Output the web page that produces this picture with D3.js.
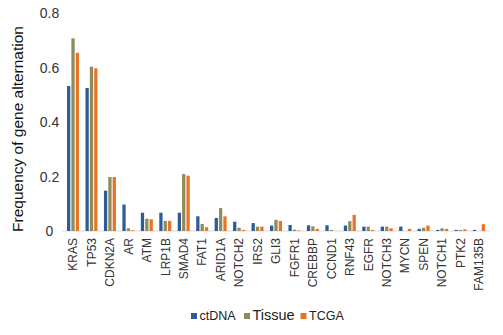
<!DOCTYPE html>
<html>
<head>
<meta charset="utf-8">
<script src="https://cdn.jsdelivr.net/npm/d3@7"></script>
<style>
  body { margin: 0; background: #fff; }
  svg { display: block; font-family: "Liberation Sans", Arial, sans-serif; }
</style>
</head>
<body>
<div id="plot"></div>
<script>
var width = 503;
var height = 335;

var genes = ['KRAS', 'TP53', 'CDKN2A', 'AR', 'ATM', 'LRP1B', 'SMAD4', 'FAT1', 'ARID1A', 'NOTCH2',
             'IRS2', 'GLI3', 'FGFR1', 'CREBBP', 'CCND1', 'RNF43', 'EGFR', 'NOTCH3', 'MYCN', 'SPEN',
             'NOTCH1', 'PTK2', 'FAM135B'];
var series = ['ctDNA', 'Tissue', 'TCGA'];
var ctdna  = [0.532, 0.525, 0.148, 0.097, 0.067, 0.067, 0.067, 0.054, 0.048, 0.034,
              0.029, 0.020, 0.022, 0.021, 0.021, 0.020, 0.016, 0.016, 0.016, 0.008,
              0.004, 0.004, 0.004];
var tissue = [0.707, 0.603, 0.198, 0.010, 0.045, 0.037, 0.209, 0.026, 0.084, 0.012,
              0.016, 0.041, 0.005, 0.017, 0.004, 0.036, 0.016, 0.016, 0.000, 0.012,
              0.010, 0.004, 0.000];
var tcga   = [0.654, 0.597, 0.198, 0.003, 0.043, 0.037, 0.203, 0.014, 0.054, 0.004,
              0.016, 0.037, 0.002, 0.008, 0.000, 0.059, 0.004, 0.010, 0.008, 0.020,
              0.008, 0.006, 0.025];
var y_ticks = [0, 0.2, 0.4, 0.6, 0.8];
var colors = ['#2f5b97', '#8f8b5a', '#e8742a'];

var values = [ctdna, tissue, tcga];

var canvas = d3.select('#plot')
    .append('svg')
    .attr('width', width)
    .attr('height', height);

var x_scale = d3.scaleBand()
    .domain(genes)
    .range([63.8, 488.2]);

var inner = d3.scaleBand()
    .domain(series)
    .range([0, 12])
    .paddingInner(0.25);

var y_scale = d3.scaleLinear()
    .domain([0, 0.8])
    .range([231, 13]);

// baseline
canvas.append('line')
    .attr('x1', 62).attr('x2', 490)
    .attr('y1', y_scale(0)).attr('y2', y_scale(0))
    .attr('stroke', '#d9d9d9')
    .attr('stroke-width', 1);

// bars
series.forEach(function(s, si) {
    canvas.selectAll('rect.s' + si)
        .data(genes)
        .enter()
        .append('rect')
        .attr('class', 's' + si)
        .attr('x', function(g) { return x_scale(g) + x_scale.bandwidth() / 2 - 6 + inner(s); })
        .attr('y', function(g, i) { return y_scale(values[si][i]); })
        .attr('width', inner.bandwidth())
        .attr('height', function(g, i) { return y_scale(0) - y_scale(values[si][i]); })
        .attr('fill', colors[si]);
});

// y tick labels
canvas.selectAll('text.ytick')
    .data(y_ticks)
    .enter()
    .append('text')
    .attr('class', 'ytick')
    .attr('x', 49.5)
    .attr('y', function(d) { return y_scale(d) + 5; })
    .attr('text-anchor', 'middle')
    .attr('font-size', 14)
    .attr('fill', '#333')
    .text(function(d) { return d === 0 ? '0' : d3.format('.1f')(d); });

// x labels
canvas.selectAll('text.xlab')
    .data(genes)
    .enter()
    .append('text')
    .attr('class', 'xlab')
    .attr('transform', function(g) {
        return 'translate(' + (x_scale(g) + x_scale.bandwidth() / 2 + 4.3) + ',238) rotate(-90)';
    })
    .attr('text-anchor', 'end')
    .attr('font-size', 12)
    .attr('fill', '#333')
    .text(function(g) { return g; });

// y axis title
canvas.append('text')
    .attr('transform', 'translate(23,129) rotate(-90)')
    .attr('text-anchor', 'middle')
    .attr('font-size', 15.5)
    .attr('fill', '#111')
    .text('Frequency of gene alternation');

// legend
var legend_x = [191, 244, 300.5];
var legend_size = [12.5, 14.5, 12.5];
series.forEach(function(s, si) {
    canvas.append('rect')
        .attr('x', legend_x[si]).attr('y', 313)
        .attr('width', 6).attr('height', 6)
        .attr('fill', colors[si]);
    canvas.append('text')
        .attr('x', legend_x[si] + 8.5).attr('y', 319.5)
        .attr('font-size', legend_size[si])
        .attr('fill', '#222')
        .text(s);
});
</script>
</body>
</html>
